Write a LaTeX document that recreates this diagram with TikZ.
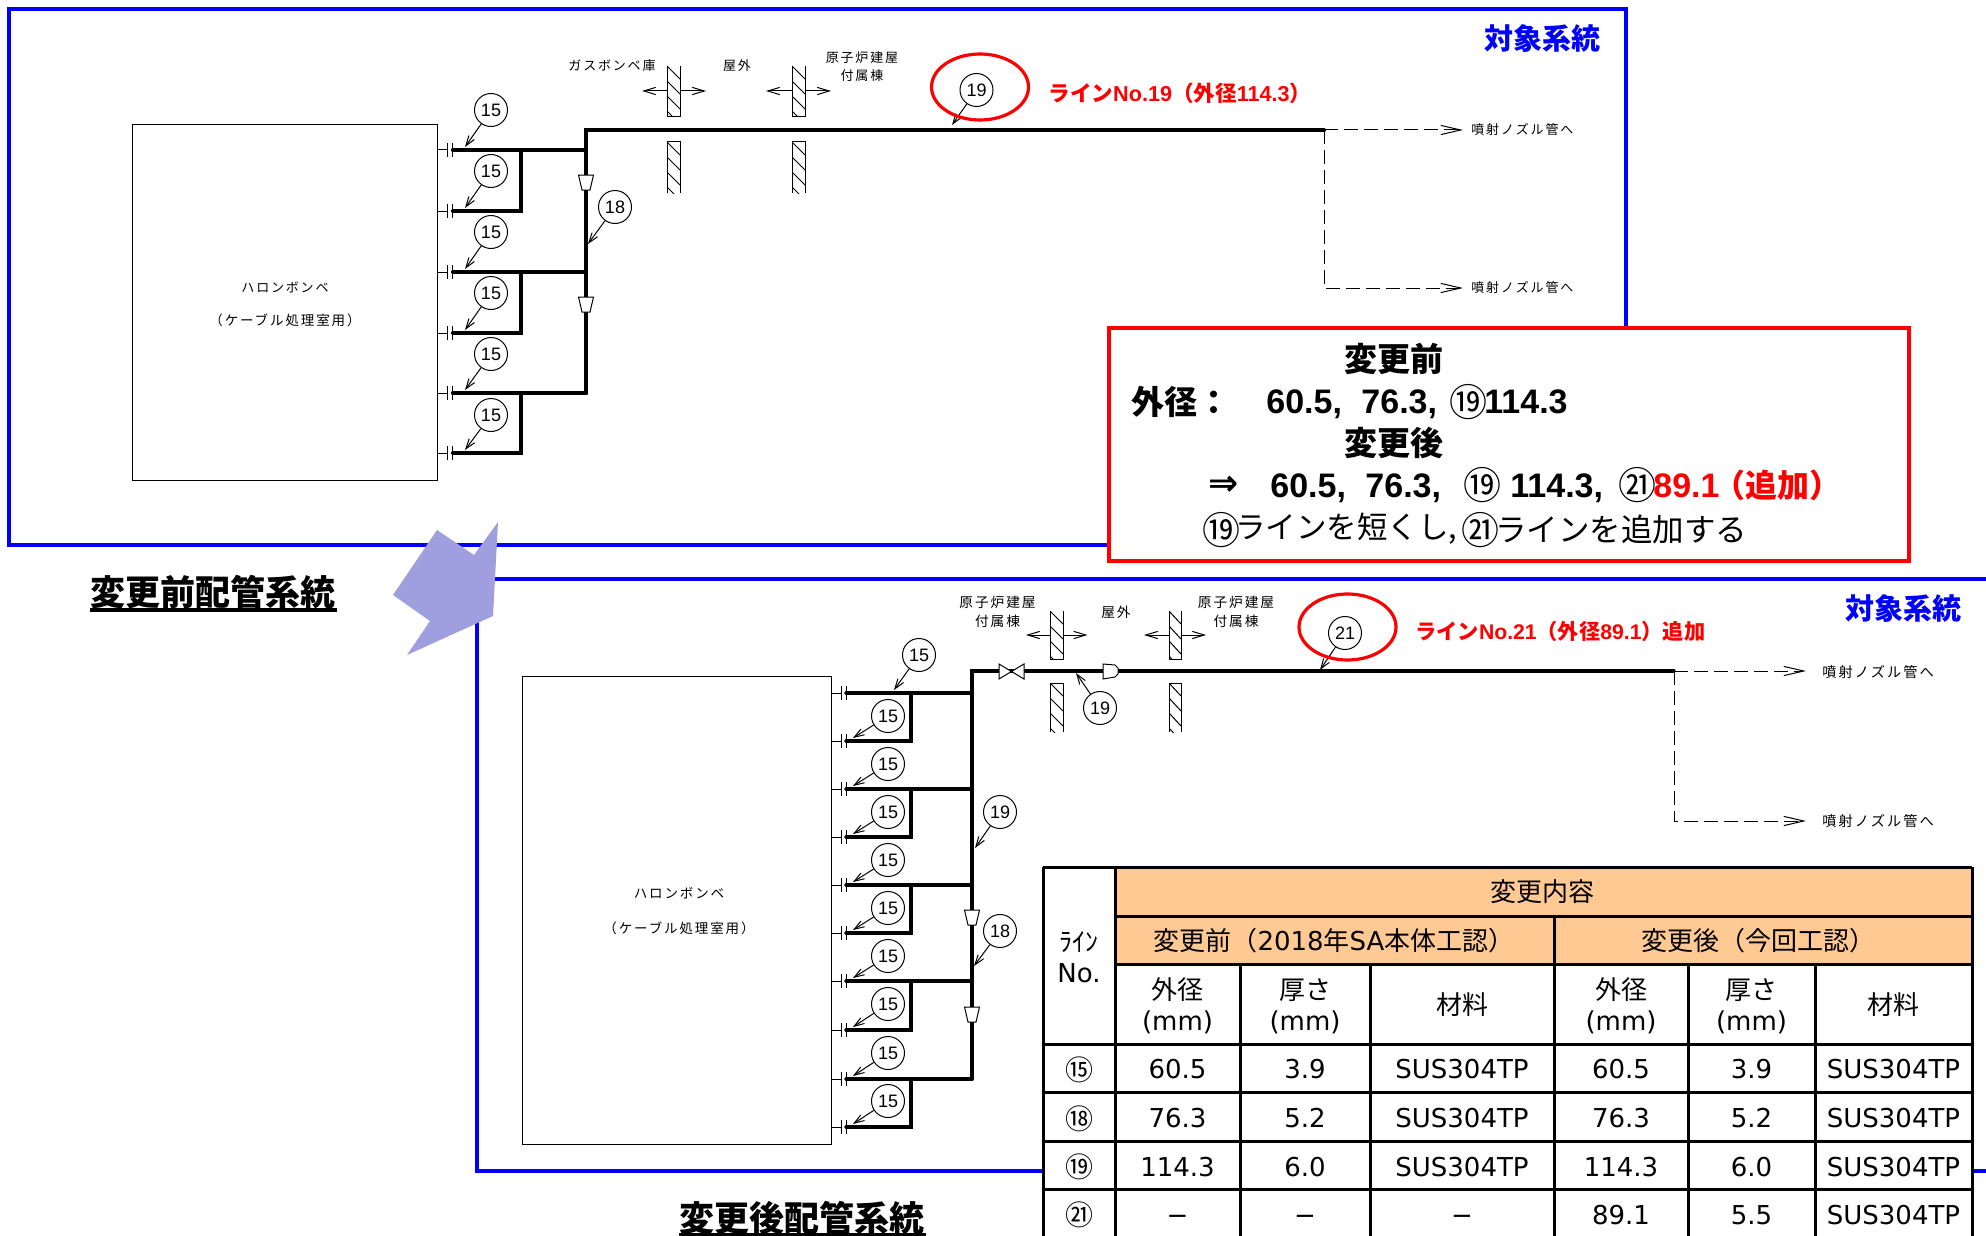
\documentclass[tikz,border=0pt]{standalone}
\usepackage{fontspec}
\usetikzlibrary{arrows.meta,shapes.geometric}
\setmainfont{Liberation Sans}
\newfontfamily\jp{Noto Sans CJK JP}
\newfontfamily\jpcad[LetterSpace=14]{Noto Sans CJK JP}
\newfontfamily\djv{DejaVu Sans}
\definecolor{bluebox}{RGB}{0,0,255}
\definecolor{arrowfill}{RGB}{159,159,224}
\definecolor{peach}{RGB}{255,201,148}
\newcommand\px[1]{\fontsize{\fpeval{#1/2}pt}{\fpeval{#1*0.6}pt}\selectfont}
\tikzset{
  frameblue/.style={draw=bluebox,line width=1.8pt},
  pipe/.style={line width=2.1pt,line cap=round,line join=miter},
  pipeb/.style={line width=1.7pt,line cap=round,line join=miter},
  thinline/.style={line width=0.5pt},
  dashline/.style={line width=0.5pt,dash pattern=on 7pt off 3pt},
  barb/.style={-{Straight Barb[length=6pt,width=3.6pt]}},
  longbarb/.style={-{Straight Barb[length=10pt,width=4.6pt]}},
  lead/.style={thinline,-{Straight Barb[length=5pt,width=3.4pt]}},
  balloon/.style={circle,draw,line width=0.5pt,fill=white,minimum size=16.5pt,inner sep=0pt,font=\px{18}},
  cad/.style={inner sep=0pt,font=\jpcad\px{13},align=center},
  cell/.style={inner sep=0pt,font=\djv\px{26},align=center},
  grid/.style={line width=1.5pt,draw=black},
  boldlab/.style={inner sep=0pt,anchor=west,font=\bfseries\px{34}},
  redlab/.style={inner sep=0pt,anchor=west,text=red,font=\bfseries\px{21}},
  redring/.style={ellipse,draw=red,line width=1.6pt,inner sep=0pt,minimum width=48.5pt,minimum height=33pt},
  sideblue/.style={inner sep=0pt,text=bluebox,font=\jp\bfseries\px{29}},
  captionlab/.style={inner sep=0pt,font=\jp\bfseries\px{35}},
}
\newcommand\hatchseg[4]{%
  \begin{scope}
    \clip (#1,#2) rectangle (#3,#4);
    \foreach \k in {-2,...,5} {\pgfmathsetmacro\yy{#2+\k*15}\draw[thinline] (#1,\yy) -- (#3,\yy+13);}
  \end{scope}}
\newcommand\upperwall[4]{\hatchseg{#1}{#2}{#3}{#4}\draw[thinline] (#1,#2) -- (#1,#4) -- (#3,#4) -- (#3,#2);}
\newcommand\lowerwall[4]{\hatchseg{#1}{#2}{#3}{#4}\draw[thinline] (#1,#4) -- (#1,#2) -- (#3,#2) -- (#3,#4);}
\begin{document}
\begin{tikzpicture}[x=0.5pt,y=-0.5pt]
\useasboundingbox (0,0) rectangle (1986,1236);
\clip (0,0) rectangle (1986,1236);
\fill[white] (0,0) rectangle (1986,1236);
% frames
\draw[frameblue] (1626,330) -- (1626,9) -- (9,9) -- (9,545) -- (1120,545);
\draw[frameblue] (2000,579) -- (477,579) -- (477,1171) -- (2000,1171);
\fill[arrowfill] (498,522) -- (493,616) -- (407,655) -- (430,621) -- (393,595) -- (437,530) -- (474,555) -- cycle;
% ---- TOP DIAGRAM
\node[draw,line width=0.7pt,minimum width=152.5pt,minimum height=178pt,anchor=north west,inner sep=0pt] (topbox) at (132,124) {};
\node[cad] (toph1) at (285,287) {ハロンボンベ};
\node[cad,font=\jpcad\px{13.5}] (toph2) at (285,320) {（ケーブル処理室用）};
\foreach \n/\y in {1/150,2/211,3/272,4/333,5/393,6/453} {
  \coordinate (tf\n) at (453,\y);
  \draw[thinline] (437,\y) -- (447,\y);
  \draw[thinline] (447,\y-7) -- (447,\y+7);
  \draw[thinline] (452,\y-7) -- (452,\y+7);
}
\coordinate (tm1) at (586,150); \coordinate (tm3) at (586,272); \coordinate (tm5) at (586,393);
\coordinate (tb2) at (521,150); \coordinate (tb4) at (521,272); \coordinate (tb6) at (521,393);
\coordinate (ttop) at (586,130); \coordinate (tend) at (1324,130);
\draw[pipe] (tf1) -- (tm1); \draw[pipe] (tf3) -- (tm3); \draw[pipe] (tf5) -- (tm5);
\draw[pipe] (tf2) -| (tb2); \draw[pipe] (tf4) -| (tb4); \draw[pipe] (tf6) -| (tb6);
\draw[pipe] (tm5) -- (ttop) -- (tend);
\foreach \a/\b in {175/190,297/312}
  \draw[thinline,fill=white] (578.5,\a) -- (593.5,\a) -- (590,\b) -- (582,\b) -- cycle;
\coordinate (td1) at (1463,130); \coordinate (td2) at (1463,288);
\draw[dashline,longbarb] (tend) -- (td1);
\draw[dashline,longbarb] (tend) |- (td2);
\node[cad,anchor=west] (tn1) at (1471,130) {噴射ノズル管へ};
\node[cad,anchor=west] (tn2) at (1471,288) {噴射ノズル管へ};
\upperwall{667}{66}{680}{117}\lowerwall{667}{142}{680}{193}
\upperwall{792}{66}{805}{117}\lowerwall{792}{142}{805}{193}
\coordinate (ta1) at (642,91); \coordinate (ta2) at (706,91);
\coordinate (ta3) at (766,91); \coordinate (ta4) at (831,91);
\draw[thinline,barb] (667,91) -- (ta1); \draw[thinline,barb] (680,91) -- (ta2);
\draw[thinline,barb] (792,91) -- (ta3); \draw[thinline,barb] (805,91) -- (ta4);
\node[cad] (tl1) at (612,66) {ガスボンベ庫};
\node[cad] (tl2) at (737,66) {屋外};
\node[cad] (tl3) at (862,58) {原子炉建屋};
\node[cad] (tl4) at (862,76) {付属棟};
\foreach \n/\y/\t in {1/110/147,2/171/208,3/232/269,4/293/330,5/354/390,6/415/450} {
  \node[balloon] (tbal\n) at (491,\y) {15};
  \coordinate (tt\n) at (465,\t);
  \draw[lead] (tbal\n) -- (tt\n);
}
\node[balloon] (t18) at (615,207) {18};
\coordinate (t18t) at (588,244);
\draw[lead] (t18) -- (t18t);
\node[balloon] (t19) at (976.5,90) {19};
\coordinate (t19t) at (952,125);
\draw[lead] (t19) -- (t19t);
\node[redring] (tring) at (980,87) {};
\node[redlab,font=\bfseries\px{21.6}] (tred) at (1048,93) {{\jp ライン}No.19{\jp （外径}114.3{\jp ）}};
\node[sideblue] (tsys) at (1542,38) {対象系統};
\node[captionlab] (tcap) at (213,592) {変更前配管系統};
\draw[line width=1.6pt] (90,610) -- (337,610);
% ---- BOTTOM DIAGRAM
\node[draw,line width=0.7pt,minimum width=154.5pt,minimum height=234pt,anchor=north west,inner sep=0pt] (botbox) at (522,676) {};
\node[cad,font=\jpcad\px{13.5}] (both1) at (679,893) {ハロンボンベ};
\node[cad,font=\jpcad\px{13.5}] (both2) at (679,928) {（ケーブル処理室用）};
\foreach \n/\y in {1/693,2/741,3/789,4/837,5/885,6/933,7/981,8/1030,9/1079,10/1127} {
  \coordinate (bf\n) at (846,\y);
  \draw[thinline] (832,\y) -- (842,\y);
  \draw[thinline] (841,\y-7) -- (841,\y+7);
  \draw[thinline] (846,\y-7) -- (846,\y+7);
}
\coordinate (btop) at (972,671); \coordinate (bend) at (1674,671);
\foreach \a/\b/\y in {1/2/693,3/4/789,5/6/885,7/8/981,9/10/1079} {
  \coordinate (bm\a) at (972,\y);
  \coordinate (bk\b) at (911,\y);
  \draw[pipeb] (bf\a) -- (bm\a);
  \draw[pipeb] (bf\b) -| (bk\b);
}
\draw[pipeb] (bm9) -- (btop) -- (bend);
\foreach \a/\b in {910/925,1007/1022}
  \draw[thinline,fill=white] (964.5,\a) -- (979.5,\a) -- (976,\b) -- (968,\b) -- cycle;
\draw[thinline,fill=white] (1103,664) -- (1115,665) -- (1118,668) -- (1118,674) -- (1115,677) -- (1103,679) -- cycle;
\draw[thinline,fill=white] (999,664) -- (1024,679) -- (1024,664) -- (999,679) -- cycle;
\coordinate (bd1) at (1806,671); \coordinate (bd2) at (1806,821);
\draw[dashline,longbarb] (bend) -- (bd1);
\draw[dashline,longbarb] (bend) |- (bd2);
\node[cad,anchor=west,font=\jpcad\px{14.2}] (bn1) at (1822,672) {噴射ノズル管へ};
\node[cad,anchor=west,font=\jpcad\px{14.2}] (bn2) at (1822,821) {噴射ノズル管へ};
\upperwall{1050}{611}{1063}{659}\lowerwall{1050}{683}{1063}{732}
\upperwall{1169}{611}{1181}{659}\lowerwall{1169}{683}{1181}{732}
\coordinate (ba1) at (1026,635); \coordinate (ba2) at (1087.5,635);
\coordinate (ba3) at (1144,635); \coordinate (ba4) at (1206,635);
\draw[thinline,barb] (1050,635) -- (ba1); \draw[thinline,barb] (1063,635) -- (ba2);
\draw[thinline,barb] (1169,635) -- (ba3); \draw[thinline,barb] (1181,635) -- (ba4);
\node[cad,font=\jpcad\px{13.7}] (bl1) at (997.5,602) {原子炉建屋};
\node[cad,font=\jpcad\px{13.7}] (bl2) at (997.5,621) {付属棟};
\node[cad,font=\jpcad\px{13.7}] (bl3) at (1116,612) {屋外};
\node[cad,font=\jpcad\px{13.7}] (bl4) at (1236,602) {原子炉建屋};
\node[cad,font=\jpcad\px{13.7}] (bl5) at (1236,621) {付属棟};
\node[balloon] (bbal1) at (919,655) {15};
\coordinate (bbt1) at (894,690);
\draw[lead] (bbal1) -- (bbt1);
\foreach \n/\y/\t in {2/716/738,3/764/786,4/812/834,5/860/882,6/908/930,7/956/978,8/1004/1027,9/1053/1076,10/1101/1124} {
  \node[balloon] (bbal\n) at (888,\y) {15};
  \coordinate (bbt\n) at (853,\t);
  \draw[lead] (bbal\n) -- (bbt\n);
}
\node[balloon] (b19a) at (1100,708) {19};
\coordinate (b19at) at (1076,673);
\draw[lead] (b19a) -- (b19at);
\node[balloon] (b19b) at (1000,812) {19};
\coordinate (b19bt) at (975,848);
\draw[lead] (b19b) -- (b19bt);
\node[balloon] (b18) at (1000,931) {18};
\coordinate (b18t) at (974,966);
\draw[lead] (b18) -- (b18t);
\node[balloon] (b21) at (1345,633) {21};
\coordinate (b21t) at (1320,670);
\draw[lead] (b21) -- (b21t);
\node[redring] (bring) at (1347.5,627) {};
\node[redlab,font=\bfseries\px{21.2}] (bred) at (1415,631) {{\jp ライン}No.21{\jp （外径}89.1{\jp ）追加}};
\node[sideblue] (bsys) at (1903,608) {対象系統};
\node[captionlab] (bcap) at (802,1218) {変更後配管系統};
\draw[line width=1.6pt] (679,1235) -- (926,1235);
% ---- RED NOTE
\node[draw=red,fill=white,line width=1.8pt,anchor=north west,minimum width=400pt,minimum height=116.5pt,inner sep=0pt] (note) at (1107,326) {};
\node[boldlab,anchor=center,font=\jp\bfseries\px{33}] (n1) at (1394,359) {変更前};
\node[boldlab,font=\jp\bfseries\px{33}] (n2a) at (1131,402) {外径：};
\node[boldlab] (n2b) at (1266,404.5) {60.5,\hspace{5pt} 76.3,};
\node[boldlab,font=\jp\px{38}] (n2c) at (1449,402) {⑲};
\node[boldlab] (n2d) at (1484,402) {114.3};
\node[boldlab,anchor=center,font=\jp\bfseries\px{33}] (n3) at (1394,443) {変更後};
\node[boldlab,font=\djv\bfseries\px{36}] (n4a) at (1208,486) {⇒};
\node[boldlab] (n4b) at (1270,488.5) {60.5,\hspace{5pt} 76.3,};
\node[boldlab,font=\jp\px{38}] (n4c) at (1463,485) {⑲};
\node[boldlab] (n4d) at (1510,488.5) {114.3,};
\node[boldlab,font=\jp\px{38}] (n4e) at (1618,485) {㉑};
\node[boldlab,text=red] (n4f) at (1653,486) {89.1};
\node[boldlab,text=red,font=\jp\bfseries\px{32}] (n4g) at (1713,485) {（追加）};
\node[boldlab,font=\jp\px{38}] (n5a) at (1202,530) {⑲};
\node[boldlab,font=\jp\px{30.5}] (n5b) at (1235,529) {ラインを短くし,};
\node[boldlab,font=\jp\px{38}] (n5c) at (1461,530) {㉑};
\node[boldlab,font=\jp\px{31.5}] (n5d) at (1495,529) {ラインを追加する};
% ---- TABLE
\fill[white] (1043,867) rectangle (1972,1240);
\fill[peach] (1115,867) rectangle (1972,964);
\draw[grid] (1043,867) -- (1972,867);
\draw[grid] (1115,916) -- (1972,916);
\draw[grid] (1115,964) -- (1972,964);
\foreach \y in {1044,1092,1141,1189} \draw[grid] (1043,\y) -- (1972,\y);
\draw[grid] (1043,867) -- (1043,1240);
\draw[grid] (1115,867) -- (1115,1240);
\draw[grid] (1972,867) -- (1972,1240);
\draw[grid] (1554,916) -- (1554,1240);
\foreach \x in {1240,1370,1688,1815} \draw[grid] (\x,964) -- (\x,1240);
\node[cell] (h0a) at (1079,942) {\jp ﾗｲﾝ};
\node[cell] (h0b) at (1079,973) {No.};
\node[cell,font=\jp\px{26}] (h1) at (1542,892) {変更内容};
\node[cell] (h2) at (1334,941) {{\jp 変更前（}2018{\jp 年}SA{\jp 本体工認）}};
\node[cell] (h3) at (1758,941) {{\jp 変更後（今回工認）}};
\foreach \n/\x in {a/1177.5,b/1621} {
  \node[cell,font=\jp\px{26}] (o\n) at (\x,990) {外径};
  \node[cell] (om\n) at (\x,1022) {(mm)};
}
\foreach \n/\x in {a/1305,b/1751.5} {
  \node[cell,font=\jp\px{26}] (t\n) at (\x,990) {厚さ};
  \node[cell] (tm\n) at (\x,1022) {(mm)};
}
\foreach \n/\x in {a/1462,b/1893.5}
  \node[cell,font=\jp\px{26}] (m\n) at (\x,1005) {材料};
\foreach \r/\y/\c/\oa/\ta/\ma/\ob/\tb in {
  p/1069.5/⑮/60.5/3.9/SUS304TP/60.5/3.9,
  q/1118.5/⑱/76.3/5.2/SUS304TP/76.3/5.2,
  r/1167/⑲/114.3/6.0/SUS304TP/114.3/6.0,
  s/1215/㉑/−/−/−/89.1/5.5} {
  \node[cell,font=\jp\px{28}] (\r0) at (1079,\y) {\c};
  \node[cell] (\r1) at (1177.5,\y) {\vphantom{0}\oa};
  \node[cell] (\r2) at (1305,\y) {\vphantom{0}\ta};
  \node[cell] (\r3) at (1462,\y) {\vphantom{0}\ma};
  \node[cell] (\r4) at (1621,\y) {\vphantom{0}\ob};
  \node[cell] (\r5) at (1751.5,\y) {\vphantom{0}\tb};
  \node[cell] (\r6) at (1893.5,\y) {\vphantom{0}SUS304TP};
}
\end{tikzpicture}
\end{document}
